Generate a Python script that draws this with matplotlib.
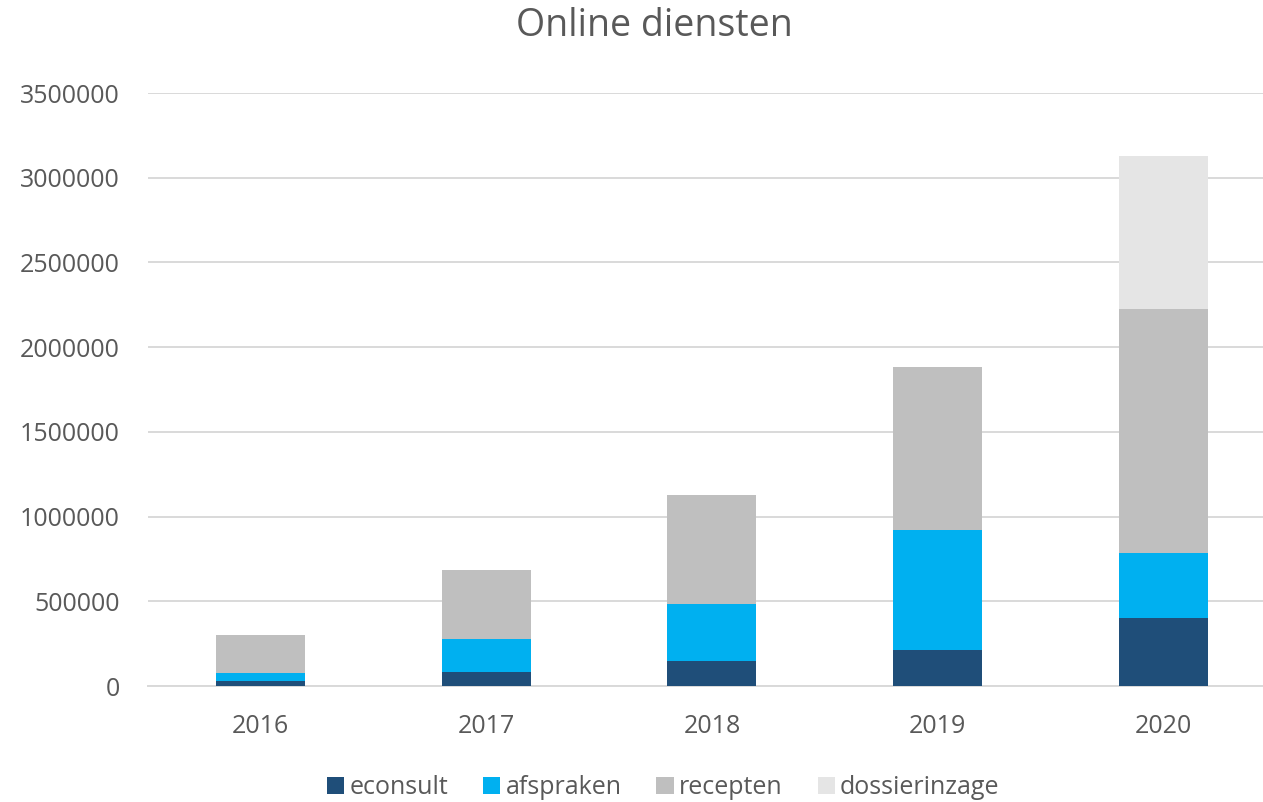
import matplotlib
matplotlib.use("Agg")
import matplotlib.pyplot as plt
import numpy as np

years = ["2016", "2017", "2018", "2019", "2020"]
econsult = [29000, 84000, 147000, 212000, 402000]
afspraken = [46000, 191000, 338000, 711000, 383000]
recepten = [227000, 408000, 644000, 962000, 1438000]
dossierinzage = [0, 0, 0, 0, 903000]

series = [
    ("econsult", econsult, "#1f4e79"),
    ("afspraken", afspraken, "#00b0f0"),
    ("recepten", recepten, "#bfbfbf"),
    ("dossierinzage", dossierinzage, "#e5e5e5"),
]

plt.rcParams["font.family"] = ["Open Sans", "DejaVu Sans"]
text_color = "#595959"

fig = plt.figure(figsize=(12.63, 8.02), dpi=100)
# plot area runs a bit past the right edge, like the original
ax = fig.add_axes([0.117, 0.1446, 1.0103 - 0.117, 0.7394])

x = np.arange(len(years))
bottom = np.zeros(len(years))
for name, vals, color in series:
    vals = np.array(vals)
    ax.bar(x, vals, 0.394, bottom=bottom, color=color, label=name, zorder=3)
    bottom += vals

ax.set_xlim(-0.5, len(years) - 0.5)
ax.set_ylim(0, 3500000)
ax.set_yticks(np.arange(0, 3500001, 500000))
ax.set_yticklabels([str(v) for v in range(0, 3500001, 500000)])
ax.set_xticks(x)
ax.set_xticklabels(years)
ax.grid(axis="y", color="#d9d9d9", linewidth=1.4, zorder=0)
for s in ["top", "right", "left"]:
    ax.spines[s].set_visible(False)
ax.spines["bottom"].set_color("#d9d9d9")
ax.spines["bottom"].set_linewidth(1.4)
ax.tick_params(axis="both", length=0, labelsize=18, colors=text_color)
ax.tick_params(axis="y", pad=20)
ax.tick_params(axis="x", pad=20)

fig.text(0.518, 0.967, "Online diensten", ha="center", va="center",
         fontsize=27, color=text_color)

fig.legend(loc="center", bbox_to_anchor=(0.525, 0.018), ncol=4, frameon=False,
           fontsize=18, handlelength=0.7, handleheight=0.7, handletextpad=0.2,
           columnspacing=1.4, labelcolor=text_color)

fig.savefig("out.png", dpi=100)
